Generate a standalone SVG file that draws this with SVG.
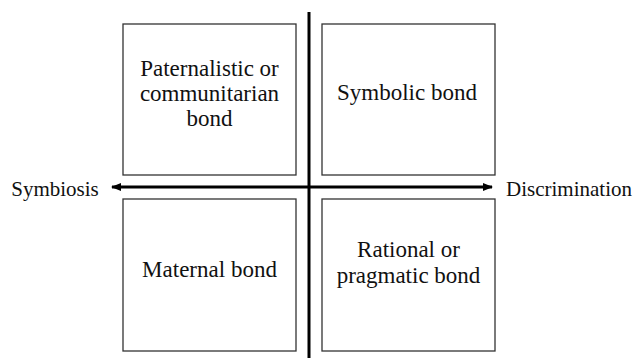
<svg xmlns="http://www.w3.org/2000/svg" width="635" height="358" viewBox="0 0 635 358">
<style>
.box{fill:#fff;stroke:#333;stroke-width:1.3}
.t{font-family:'Liberation Serif','DejaVu Serif',serif;font-size:23px;fill:#111;text-anchor:middle}
.lb{font-size:21px}
.ax{stroke:#000;stroke-width:3;fill:none}
</style>
<defs>
<marker id="ah" markerWidth="10" markerHeight="8" refX="9" refY="4" orient="auto-start-reverse" markerUnits="userSpaceOnUse">
<path d="M0,0 L10,4 L0,8 Z" fill="#000"/>
</marker>
</defs>
<g id="tl"><rect class="box" x="123" y="24" width="173" height="151"/>
<text class="t" x="209.5" y="76">Paternalistic or</text>
<text class="t" x="209.5" y="101">communitarian</text>
<text class="t" x="209.5" y="126">bond</text></g>
<g id="tr"><rect class="box" x="322" y="24" width="173" height="151"/>
<text class="t" x="407" y="100">Symbolic bond</text></g>
<g id="bl"><rect class="box" x="123" y="199" width="173" height="152"/>
<text class="t" x="209.5" y="277">Maternal bond</text></g>
<g id="br"><rect class="box" x="322" y="199" width="173" height="152"/>
<text class="t" x="408.5" y="257">Rational or</text>
<text class="t" x="408.5" y="283">pragmatic bond</text></g>
<g id="connectors">
<line class="ax" x1="309" y1="12" x2="309" y2="358"/>
<line class="ax" x1="112" y1="187" x2="492" y2="187" marker-start="url(#ah)" marker-end="url(#ah)"/>
</g>
<g id="labels">
<text class="t lb" x="55" y="196">Symbiosis</text>
<text class="t lb" x="569" y="196">Discrimination</text>
</g>
</svg>
